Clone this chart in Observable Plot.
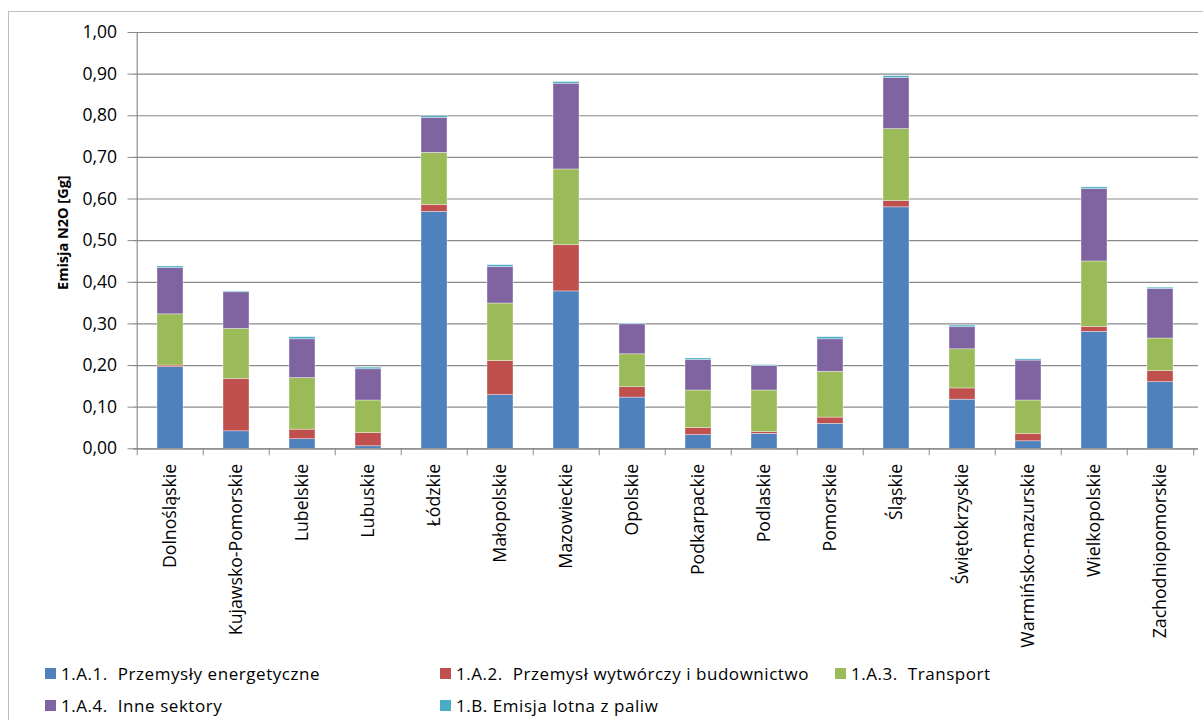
<!DOCTYPE html>
<html>
<head>
<meta charset="utf-8">
<script src="https://cdn.jsdelivr.net/npm/d3@7"></script>
<script src="https://cdn.jsdelivr.net/npm/@observablehq/plot@0.6"></script>
<style>
  html, body { margin: 0; padding: 0; background: #fff; overflow: hidden; }
  #wrap { position: relative; width: 1203px; height: 720px; font-family: "Open Sans", sans-serif; }
  #border { position: absolute; left: 8px; top: 11px; width: 1220px; height: 740px; border: 1px solid #bdbdbd; box-sizing: border-box; }
  #chart { position: absolute; left: 0; top: 0; }
  .leg { position: absolute; font-size: 17px; letter-spacing: 0.55px; color: #000; white-space: pre; display: flex; align-items: center; }
  .sw { width: 11px; height: 11px; margin-right: 5px; display: inline-block; }
</style>
</head>
<body>
<div id="wrap">
  <div id="border"></div>
  <div id="chart"></div>
  <div id="legend"></div>
</div>
<script>
const categories = ["Dolnośląskie","Kujawsko-Pomorskie","Lubelskie","Lubuskie","Łódzkie","Małopolskie","Mazowieckie","Opolskie","Podkarpackie","Podlaskie","Pomorskie","Śląskie","Świętokrzyskie","Warmińsko-mazurskie","Wielkopolskie","Zachodniopomorskie"];

const seriesNames = ["1.A.1.  Przemysły energetyczne","1.A.2.  Przemysł wytwórczy i budownictwo","1.A.3.  Transport","1.A.4.  Inne sektory","1.B. Emisja lotna z paliw"];

const energetyczne = [0.196,0.042,0.023,0.006,0.569,0.129,0.378,0.123,0.033,0.036,0.060,0.580,0.118,0.018,0.281,0.160];
const wytworczy    = [0.004,0.126,0.023,0.032,0.017,0.082,0.111,0.025,0.017,0.004,0.015,0.015,0.027,0.018,0.012,0.027];
const transport    = [0.123,0.120,0.124,0.078,0.125,0.138,0.182,0.079,0.090,0.100,0.110,0.173,0.094,0.080,0.157,0.078];
const inneSektory  = [0.111,0.088,0.093,0.075,0.084,0.088,0.206,0.072,0.073,0.059,0.078,0.123,0.053,0.096,0.174,0.119];
const emisjaLotna  = [0.004,0.002,0.005,0.004,0.004,0.004,0.004,0.002,0.004,0.002,0.005,0.004,0.004,0.003,0.004,0.003];

const yTicks = [0,0.1,0.2,0.3,0.4,0.5,0.6,0.7,0.8,0.9,1.0];
const yTitle = "Emisja N2O [Gg]";
const colors = ["#4F81BD","#C0504D","#9BBB59","#8064A2","#4BACC6"];

const seriesValues = [energetyczne, wytworczy, transport, inneSektory, emisjaLotna];
const data = [];
seriesNames.forEach((s, i) => categories.forEach((c, j) => data.push({category: c, series: s, value: seriesValues[i][j]})));

const W = 1203, H = 720;
const mL = 133, mR = 5, mT = 32, mB = 720 - 448.3;
const step = (W - mL - mR) / categories.length;
const half = step / 2;
const fmt = d => d.toFixed(2).replace(".", ",");
const gray = "#8a8a8a";

const chart = Plot.plot({
  width: W,
  height: H,
  marginLeft: mL,
  marginRight: mR,
  marginTop: mT,
  marginBottom: mB,
  style: {fontFamily: "'Open Sans', sans-serif", background: "transparent", overflow: "visible"},
  x: {domain: categories, paddingInner: 0.6, paddingOuter: 0.3, axis: null},
  y: {domain: [0, 1], axis: null},
  color: {domain: seriesNames, range: colors},
  marks: [
    Plot.gridY(yTicks, {stroke: gray, strokeOpacity: 1, strokeWidth: 1.2}),
    Plot.barY(data, {x: "category", y: "value", fill: "series", order: seriesNames, stroke: "white", strokeWidth: 0.6, strokeOpacity: 0.6}),
    Plot.ruleY([0], {stroke: gray, strokeWidth: 1.2}),
    Plot.ruleX([categories[0]], {dx: -half, stroke: gray, strokeWidth: 1.2}),
    Plot.axisY({ticks: yTicks, tickSize: 5.5, tickPadding: 11, tickFormat: fmt, stroke: gray, fontSize: 17.5, fill: "#000", label: null}),
    Plot.axisX({ticks: categories, tickSize: 7, dx: -half, tickFormat: () => "", stroke: gray, label: null}),
    Plot.axisX({ticks: [categories[categories.length - 1]], tickSize: 7, dx: half, tickFormat: () => "", stroke: gray, label: null}),
    Plot.text(categories, {x: d => d, frameAnchor: "bottom", rotate: -90, textAnchor: "end", lineAnchor: "middle", dy: 15, fontSize: 17.7, fill: "#000"}),
    Plot.text([yTitle], {text: d => d, frameAnchor: "left", rotate: -90, textAnchor: "middle", lineAnchor: "middle", dx: -70, dy: -8, fontWeight: "bold", fontSize: 14.5, fill: "#000"})
  ]
});
document.getElementById("chart").appendChild(chart);

const legendPos = [[45, 673], [440, 673], [835, 673], [45, 705], [440, 705]];
const legend = document.getElementById("legend");
seriesNames.forEach((s, i) => {
  const el = document.createElement("div");
  el.className = "leg";
  el.style.left = legendPos[i][0] + "px";
  el.style.top = (legendPos[i][1] - 10) + "px";
  el.style.height = "20px";
  const sw = document.createElement("span");
  sw.className = "sw";
  sw.style.background = colors[i];
  el.appendChild(sw);
  el.appendChild(document.createTextNode(s));
  legend.appendChild(el);
});
</script>
</body>
</html>
